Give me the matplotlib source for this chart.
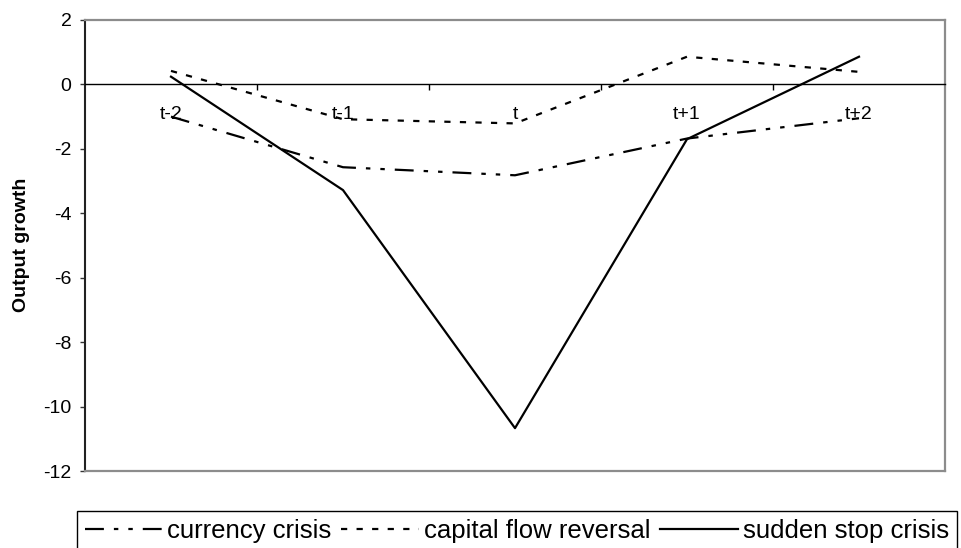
import matplotlib
matplotlib.use("Agg")
import matplotlib.pyplot as plt
from matplotlib.lines import Line2D

plt.rcParams['font.family'] = ['Liberation Sans', 'DejaVu Sans']

categories = ["t-2", "t-1", "t", "t+1", "t+2"]
currency_crisis = [-1.0, -2.57, -2.82, -1.68, -1.05]
capital_flow_reversal = [0.42, -1.08, -1.21, 0.86, 0.39]
sudden_stop_crisis = [0.24, -3.28, -10.67, -1.70, 0.86]
y_ticks = [2, 0, -2, -4, -6, -8, -10, -12]

W, H = 962, 548
fig = plt.figure(figsize=(W / 100, H / 100), dpi=100)
ax = fig.add_axes([85 / W, 1 - 471 / H, (945 - 85) / W, (471 - 20) / H])

x = list(range(len(categories)))
lw = 1.6
l1, = ax.plot(x, currency_crisis, color='black', lw=lw,
              dashes=(8.5, 4.5, 2, 4.5, 2, 4.5), label='currency crisis')
l2, = ax.plot(x, capital_flow_reversal, color='black', lw=lw,
              dashes=(2.8, 4.2), label='capital flow reversal')
l3, = ax.plot(x, sudden_stop_crisis, color='black', lw=lw,
              label='sudden stop crisis')

ax.set_xlim(-0.5, len(categories) - 0.5)
ax.set_ylim(min(y_ticks), max(y_ticks))
ax.set_yticks(y_ticks)
ax.set_yticklabels([str(v) for v in y_ticks])

# x axis on the zero line
ax.spines['bottom'].set_position(('data', 0))
ax.spines['bottom'].set_color('black')
ax.spines['bottom'].set_linewidth(1.0)
ax.set_xticks(x)
ax.set_xticklabels(categories)
ax.set_xticks([i + 0.5 for i in x[:-1]], minor=True)
ax.tick_params(axis='x', which='major', length=0, pad=15.5, labelsize=14)
ax.tick_params(axis='x', which='minor', length=4.3, width=1.0, direction='out', color='black')

ax.tick_params(axis='y', length=3.8, width=1.0, pad=6, labelsize=14, color='#333333')
ax.spines['left'].set_color('#222222')
ax.spines['left'].set_linewidth(1.5)
for s in ['top', 'right']:
    ax.spines[s].set_color('#8c8c8c')
    ax.spines[s].set_linewidth(1.6)
ax.plot([0, 1], [0, 0], transform=ax.transAxes, color='#8c8c8c', lw=1.6,
        clip_on=False, zorder=3)

fig.text(22 / W, 1 - 245 / H, 'Output growth', rotation=90, ha='center',
         va='center', fontsize=14, fontweight='bold')

leg = fig.legend(handles=[l1, l2, l3], loc='upper left',
                 bbox_to_anchor=(77 / W, 1 - 511 / H), ncol=3, fontsize=18.5,
                 frameon=True, fancybox=False, framealpha=1, edgecolor='black',
                 handlelength=3.0, handletextpad=0.2, columnspacing=0.4,
                 borderpad=0.3, borderaxespad=0)
leg.get_frame().set_linewidth(1.0)

fig.savefig('out.png', dpi=100)
